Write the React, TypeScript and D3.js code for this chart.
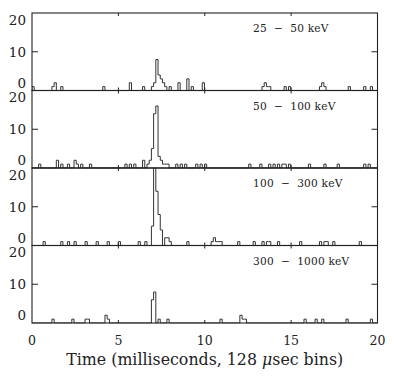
import React from "react";
import * as d3 from "d3";

// ---- data ----
const BIN_MS = 0.128;
const N_BINS = 157;
const xTicks = [0, 5, 10, 15, 20];
const yTickLabels = [0, 10, 20];
const bandLabels = ["25  \u2212  50 keV", "50  \u2212  100 keV", "100  \u2212  300 keV", "300  \u2212  1000 keV"];

// [bin index, counts] for non-empty bins
const band1: [number, number][] = [[0,1],[9,1],[10,2],[13,1],[32,1],[44,2],[50,1],[54,1],[55,2],[56,8],[57,4],[58,3],[59,2],[60,1],[62,1],[66,2],[70,3],[72,1],[77,2],[104,1],[105,2],[106,1],[107,1],[114,1],[116,1],[130,1],[131,2],[132,1],[143,1],[150,1],[153,1]];
const band2: [number, number][] = [[3,1],[11,2],[13,1],[16,1],[19,2],[20,1],[22,1],[26,1],[42,1],[44,1],[46,1],[50,2],[52,1],[53,2],[54,5],[55,14],[56,16],[57,3],[58,2],[59,1],[60,1],[61,1],[65,1],[67,1],[69,1],[74,1],[76,1],[78,1],[98,1],[103,1],[107,1],[109,1],[111,1],[113,1],[114,1],[116,1],[125,1],[132,1],[138,1],[150,1],[152,1]];
const band3: [number, number][] = [[5,1],[13,1],[16,1],[19,1],[24,1],[29,1],[34,1],[39,1],[48,1],[51,1],[54,5],[55,22],[56,14],[57,8],[58,4],[60,2],[61,2],[62,1],[70,1],[81,1],[82,2],[83,1],[84,1],[85,1],[93,1],[100,1],[104,1],[106,1],[107,1],[111,1],[121,1],[130,1],[132,1],[133,1],[136,1],[148,1]];
const band4: [number, number][] = [[9,1],[18,1],[24,1],[25,1],[33,2],[34,1],[54,6],[55,8],[57,1],[61,1],[85,1],[94,2],[95,1],[96,1],[123,1],[128,1],[131,1],[142,1],[153,1]];
const bands = [band1, band2, band3, band4];

const W = 394, H = 379;
const X0 = 32, X1 = 377.5;
const TOP = 13, PH = 77.5;
const FONT = "'DejaVu Serif', serif";
const INK = "#222";

function fullCounts(sparse: [number, number][]) {
  const arr = new Array(N_BINS).fill(0);
  sparse.forEach(([b, c]) => { arr[b] = c; });
  return arr;
}

export default function App() {
  const x = d3.scaleLinear().domain([0, 20]).range([X0, X1]);
  return (
    <svg width={W} height={H} style={{ position: "absolute", left: 0, top: 0, background: "#fff" }}>
      <defs>
        {bands.map((_, i) => (
          <clipPath id={`clip${i}`} key={i}>
            <rect x={X0} y={TOP + i * PH - 0.5} width={X1 - X0} height={PH + 1} />
          </clipPath>
        ))}
      </defs>
      {bands.map((band, i) => {
        const top = TOP + i * PH;
        const bottom = top + PH;
        const y = d3.scaleLinear().domain([0, 20]).range([bottom, top]);
        const counts = fullCounts(band);
        const pts: [number, number][] = [[0, 0]];
        counts.forEach((c, k) => {
          pts.push([k * BIN_MS, c]);
          pts.push([(k + 1) * BIN_MS, c]);
        });
        pts.push([N_BINS * BIN_MS, 0]);
        const line = d3.line<[number, number]>().x((d) => x(d[0])).y((d) => y(d[1]));
        return (
          <g key={i}>
            <path d={line(pts) || ""} fill="none" stroke="#333" strokeWidth={1} clipPath={`url(#clip${i})`} />
            <rect x={X0} y={top} width={X1 - X0} height={PH} fill="none" stroke={INK} strokeWidth={1.1} />
            {/* y ticks at 10 */}
            <line x1={X0} x2={X0 + 6} y1={y(10)} y2={y(10)} stroke={INK} />
            <line x1={X1 - 6} x2={X1} y1={y(10)} y2={y(10)} stroke={INK} />
            {/* x ticks */}
            {xTicks.slice(1, -1).map((t) => (
              <g key={t}>
                <line x1={x(t)} x2={x(t)} y1={bottom} y2={bottom - 3} stroke={INK} />
                <line x1={x(t)} x2={x(t)} y1={top} y2={top + 3} stroke={INK} />
              </g>
            ))}
            {/* y labels */}
            {yTickLabels.map((v) => {
              let yy = y(v) + 5;
              if (v === 20) yy = top + 11.5;
              if (v === 0) yy = bottom - 3;
              return (
                <text key={v} x={26} y={yy} textAnchor="end" fontFamily={FONT} fontSize={13.5} fill={INK}>
                  {v}
                </text>
              );
            })}
            <text x={253} y={top + 19} fontFamily={FONT} fontSize={10.6} letterSpacing={0.2} fill={INK} style={{ whiteSpace: "pre" }}>
              {bandLabels[i]}
            </text>
          </g>
        );
      })}
      {xTicks.map((t) => (
        <text key={t} x={x(t)} y={345} textAnchor="middle" fontFamily={FONT} fontSize={12.5} fill={INK}>
          {t}
        </text>
      ))}
      <text x={(X0 + X1) / 2} y={365} textAnchor="middle" fontFamily={FONT} fontSize={15.8} fill={INK}>
        Time (milliseconds, 128 <tspan fontStyle="italic">μ</tspan>sec bins)
      </text>
    </svg>
  );
}
